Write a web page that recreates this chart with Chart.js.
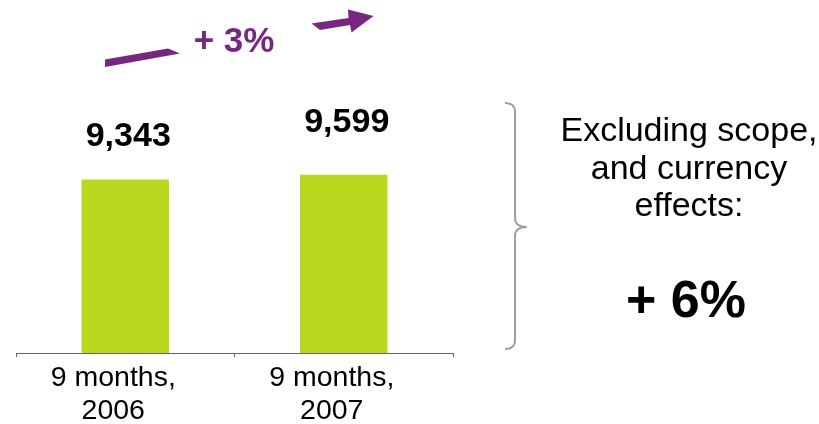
<!DOCTYPE html>
<html>
<head>
<meta charset="utf-8">
<script src="https://cdn.jsdelivr.net/npm/chart.js@4"></script>
<style>
  body { margin: 0; background: #fff; }
  canvas { display: block; }
</style>
</head>
<body>
<canvas id="ventas" width="819" height="424"></canvas>
<script>
// Ventas de los nueve primeros meses
const periodos = [['9 months,', '2006'], ['9 months,', '2007']];
const ventas = [9343, 9599];
const crecimiento = '+ 3%';
const crecimientoOrganico = '+ 6%';
const notaOrganico = ['Excluding scope,', 'and currency', 'effects:'];

const verde = '#b8d71d';
const morado = '#76277f';
const fuente = '"Liberation Sans", Arial, sans-serif';

// cifras encima de cada barra
const etiquetas = {
  id: 'etiquetas',
  afterDatasetsDraw(chart) {
    const ctx = chart.ctx;
    const subir = [33, 43];
    ctx.save();
    ctx.font = 'bold 34px ' + fuente;
    ctx.fillStyle = '#000';
    ctx.textAlign = 'center';
    ctx.textBaseline = 'alphabetic';
    chart.getDatasetMeta(0).data.forEach((barra, i) => {
      ctx.fillText(ventas[i].toLocaleString('en-US'), barra.x + 3, barra.y - subir[i]);
    });
    ctx.restore();
  }
};

// flecha morada con el crecimiento y la llave con el texto de la derecha
const adornos = {
  id: 'adornos',
  afterDraw(chart) {
    const ctx = chart.ctx;
    ctx.save();

    ctx.fillStyle = morado;
    ctx.beginPath();
    ctx.moveTo(105, 59.5);
    ctx.lineTo(168, 48.5);
    ctx.lineTo(180, 53.5);
    ctx.lineTo(105, 67);
    ctx.closePath();
    ctx.fill();

    ctx.beginPath();
    ctx.moveTo(311.5, 23.5);
    ctx.lineTo(348.5, 18);
    ctx.lineTo(348, 9.5);
    ctx.lineTo(373.5, 16);
    ctx.lineTo(351.5, 32.5);
    ctx.lineTo(350, 25);
    ctx.lineTo(320, 30);
    ctx.closePath();
    ctx.fill();

    ctx.font = 'bold 35px ' + fuente;
    ctx.textAlign = 'center';
    ctx.textBaseline = 'alphabetic';
    ctx.fillText(crecimiento, 234, 52);

    // llave
    ctx.strokeStyle = '#a6a09a';
    ctx.lineWidth = 2;
    ctx.beginPath();
    ctx.moveTo(505, 103);
    ctx.quadraticCurveTo(515, 103, 515, 112);
    ctx.lineTo(515, 218);
    ctx.quadraticCurveTo(515, 227, 527, 227);
    ctx.quadraticCurveTo(515, 227, 515, 236);
    ctx.lineTo(515, 340);
    ctx.quadraticCurveTo(515, 349, 505, 349);
    ctx.stroke();

    ctx.fillStyle = '#000';
    ctx.font = '34px ' + fuente;
    notaOrganico.forEach((linea, i) => {
      ctx.fillText(linea, 689, 141 + i * 37.6);
    });
    ctx.font = 'bold 52px ' + fuente;
    ctx.fillText(crecimientoOrganico, 686, 317);

    ctx.restore();
  }
};

const ctx = document.getElementById('ventas').getContext('2d');
const grafico = new Chart(ctx, {
  type: 'bar',
  data: {
    labels: periodos,
    datasets: [{
      data: ventas,
      backgroundColor: verde,
      borderWidth: 0,
      categoryPercentage: 0.4,
      barPercentage: 1
    }]
  },
  options: {
    responsive: false,
    animation: false,
    layout: { padding: { left: 16, right: 366, top: 0, bottom: 0 } },
    plugins: {
      legend: { display: false },
      tooltip: { enabled: false }
    },
    scales: {
      x: {
        afterFit(scale) { scale.height = 71; },
        grid: {
          display: true,
          drawOnChartArea: false,
          drawTicks: true,
          tickLength: 4,
          color: '#666',
          offset: true
        },
        border: { display: true, color: '#666', width: 1 },
        ticks: {
          color: '#000',
          padding: 5,
          labelOffset: -12,
          maxRotation: 0,
          font: { family: fuente, size: 28.5, lineHeight: 1.16 }
        }
      },
      y: {
        display: false,
        min: 0,
        max: 19000
      }
    }
  },
  plugins: [etiquetas, adornos]
});
</script>
</body>
</html>
